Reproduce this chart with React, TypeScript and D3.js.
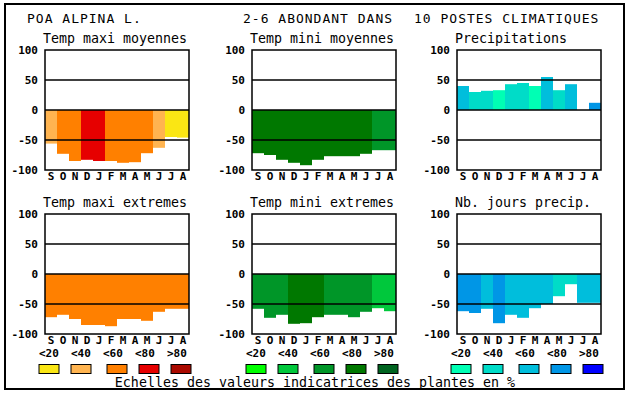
import React from "react";
import * as d3 from "d3";

// months, September to August
const months = ["S", "O", "N", "D", "J", "F", "M", "A", "M", "J", "J", "A"];
const yTicks = [100, 50, 0, -50, -100];
const gridLines = [50, 0, -50];
const legendLabels = ["<20", "<40", "<60", "<80", ">80"];

const warmColors = ["#fae614", "#ffb450", "#ff8000", "#e60000", "#aa0a00"];
const greenColors = ["#00ff00", "#00c83c", "#009628", "#007800", "#006420"];
const blueColors = ["#00ffb4", "#00dcc8", "#00bedc", "#0096e6", "#0000ff"];

// values and colour class (index into the scale) per month
const maxiMoy = [-56, -73, -85, -83, -85, -85, -88, -87, -72, -63, -45, -46];
const maxiMoyCls = [1, 2, 2, 3, 3, 2, 2, 2, 2, 1, 0, 0];
const miniMoy = [-72, -75, -83, -88, -92, -83, -77, -77, -77, -73, -67, -67];
const miniMoyCls = [3, 3, 3, 3, 3, 3, 3, 3, 3, 3, 2, 2];
const precip = [40, 30, 32, 33, 43, 45, 40, 55, 33, 43, 0, 12];
const precipCls = [2, 1, 1, 0, 1, 1, 0, 2, 1, 2, 2, 3];
const maxiExt = [-72, -68, -75, -85, -85, -87, -75, -75, -78, -63, -58, -58];
const maxiExtCls = [2, 2, 2, 2, 2, 2, 2, 2, 2, 2, 2, 2];
const miniExt = [-58, -73, -68, -83, -82, -72, -68, -68, -72, -63, -57, -62];
const miniExtCls = [2, 2, 2, 3, 3, 3, 2, 2, 2, 2, 1, 1];
const joursPrecip = [-62, -65, -58, -82, -68, -73, -57, -50, -37, -17, -48, -48];
const joursPrecipCls = [3, 3, 2, 3, 2, 2, 2, 2, 1, 1, 2, 2];

const FONT = "'DejaVu Sans Mono', monospace";
const PW = 144;
const PH = 120;

const x = d3.scaleBand<number>().domain(d3.range(12)).range([0, PW]).padding(0);
const y = d3.scaleLinear().domain([-100, 100]).range([PH, 0]);

type PanelProps = {
  left: number;
  top: number;
  title: string;
  values: number[];
  cls: number[];
  colors: string[];
  legend?: boolean;
};

const Panel = ({ left, top, title, values, cls, colors, legend }: PanelProps) => (
  <g transform={`translate(${left},${top})`}>
    <text x={-2} y={-7} fontFamily={FONT} fontSize={13.3}>
      {title}
    </text>
    {values.map((v, i) =>
      v === 0 ? null : (
        <rect
          key={i}
          x={x(i)}
          y={y(Math.max(0, v))}
          width={x.bandwidth()}
          height={Math.abs(y(v) - y(0))}
          fill={colors[cls[i]]}
        />
      )
    )}
    {gridLines.map((g) => (
      <line key={g} x1={0} x2={PW} y1={y(g)} y2={y(g)} stroke="#000" strokeWidth={1.5} />
    ))}
    <rect x={0} y={0} width={PW} height={PH} fill="none" stroke="#000" strokeWidth={1.5} />
    {yTicks.map((t) => (
      <text
        key={t}
        x={-7}
        y={y(t)}
        dy="0.36em"
        textAnchor="end"
        fontFamily={FONT}
        fontWeight="bold"
        fontSize={11}
      >
        {t}
      </text>
    ))}
    {months.map((m, i) => (
      <text
        key={i}
        x={x(i)! + x.bandwidth() / 2}
        y={PH + 10}
        textAnchor="middle"
        fontFamily={FONT}
        fontWeight="bold"
        fontSize={11}
      >
        {m}
      </text>
    ))}
    {legend &&
      legendLabels.map((l, i) => (
        <g key={l}>
          <text x={-6 + i * 32} y={PH + 23} fontFamily={FONT} fontWeight="bold" fontSize={11}>
            {l}
          </text>
          <rect
            x={-6 + i * 32 + (i >= 2 ? 4 : 0)}
            y={PH + 30.5}
            width={20}
            height={9}
            fill={colors[i]}
            stroke="#000"
            strokeWidth={1}
          />
        </g>
      ))}
  </g>
);

export default function App() {
  const lefts = [45, 252, 457];
  return (
    <svg
      width={630}
      height={394}
      style={{ position: "fixed", left: 0, top: 0, background: "#fff" }}
    >
      <rect x={5} y={4} width={619} height={385} fill="#fff" stroke="#000" strokeWidth={2} />
      <text x={27} y={23} fontFamily={FONT} fontSize={13} letterSpacing={1}>
        POA ALPINA L.
      </text>
      <text x={243} y={23} fontFamily={FONT} fontSize={13} letterSpacing={1}>
        2-6 ABONDANT DANS
      </text>
      <text x={414} y={23} fontFamily={FONT} fontSize={13} letterSpacing={1}>
        10 POSTES CLIMATIQUES
      </text>
      <Panel left={lefts[0]} top={50} title="Temp maxi moyennes" values={maxiMoy} cls={maxiMoyCls} colors={warmColors} />
      <Panel left={lefts[1]} top={50} title="Temp mini moyennes" values={miniMoy} cls={miniMoyCls} colors={greenColors} />
      <Panel left={lefts[2]} top={50} title="Precipitations" values={precip} cls={precipCls} colors={blueColors} />
      <Panel left={lefts[0]} top={214} title="Temp maxi extremes" values={maxiExt} cls={maxiExtCls} colors={warmColors} legend />
      <Panel left={lefts[1]} top={214} title="Temp mini extremes" values={miniExt} cls={miniExtCls} colors={greenColors} legend />
      <Panel left={lefts[2]} top={214} title="Nb. jours precip." values={joursPrecip} cls={joursPrecipCls} colors={blueColors} legend />
      <text x={315} y={387} textAnchor="middle" fontFamily={FONT} fontSize={13.3}>
        Echelles des valeurs indicatrices des plantes en %
      </text>
    </svg>
  );
}
